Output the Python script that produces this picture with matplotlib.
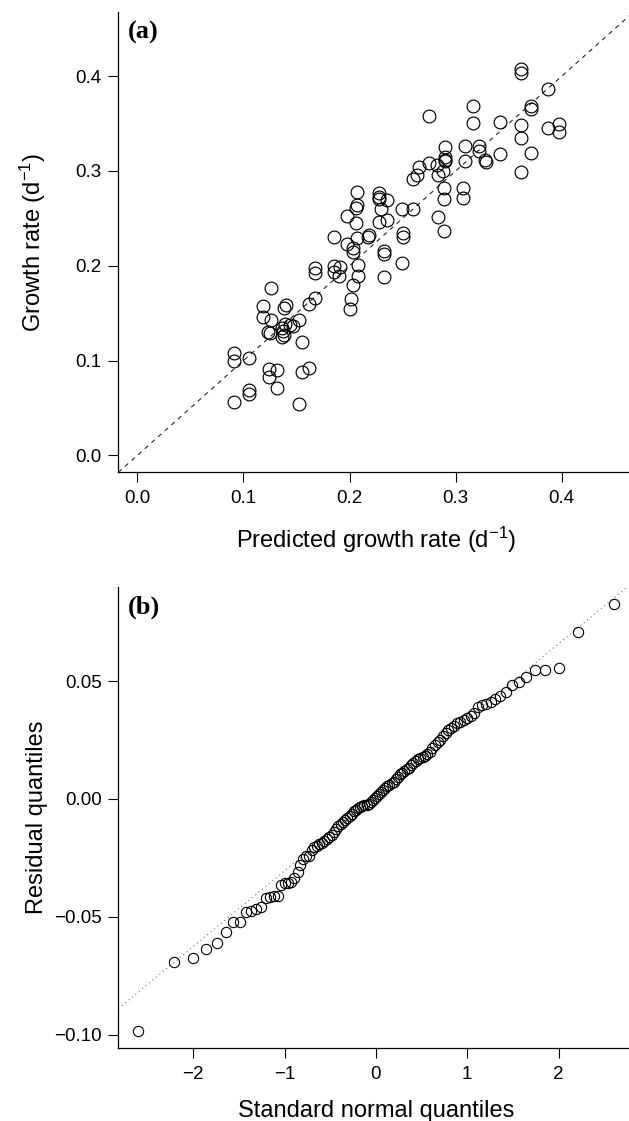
import matplotlib
matplotlib.use("Agg")
import matplotlib.pyplot as plt
from matplotlib.ticker import FixedLocator, FuncFormatter
from statistics import NormalDist

# ---------------- data ----------------
predicted = [0.362, 0.362, 0.387, 0.371, 0.371, 0.316, 0.275, 0.316, 0.342, 0.362,
             0.362, 0.387, 0.397, 0.397, 0.371, 0.362, 0.342, 0.328, 0.329, 0.322,
             0.322, 0.309, 0.309, 0.290, 0.290, 0.290, 0.290, 0.275, 0.282, 0.283,
             0.288, 0.265, 0.264, 0.260, 0.289, 0.289, 0.307, 0.307, 0.249, 0.260,
             0.283, 0.289, 0.250, 0.250, 0.207, 0.228, 0.228, 0.228, 0.235, 0.207,
             0.206, 0.198, 0.206, 0.230, 0.228, 0.235, 0.185, 0.207, 0.198, 0.203,
             0.203, 0.218, 0.217, 0.232, 0.232, 0.249, 0.208, 0.167, 0.167, 0.185,
             0.191, 0.185, 0.190, 0.208, 0.203, 0.232, 0.126, 0.167, 0.201, 0.200,
             0.162, 0.118, 0.118, 0.140, 0.138, 0.126, 0.152, 0.139, 0.144, 0.136,
             0.137, 0.138, 0.136, 0.125, 0.123, 0.147, 0.155, 0.091, 0.091, 0.105,
             0.124, 0.132, 0.124, 0.155, 0.162, 0.132, 0.105, 0.105, 0.091, 0.152]

observed = [0.408, 0.403, 0.386, 0.368, 0.365, 0.368, 0.358, 0.351, 0.352, 0.348,
            0.335, 0.345, 0.350, 0.341, 0.319, 0.299, 0.318, 0.312, 0.309, 0.326,
            0.321, 0.326, 0.311, 0.325, 0.312, 0.310, 0.315, 0.308, 0.306, 0.296,
            0.300, 0.304, 0.296, 0.291, 0.282, 0.270, 0.282, 0.271, 0.260, 0.260,
            0.251, 0.237, 0.235, 0.230, 0.278, 0.277, 0.273, 0.270, 0.269, 0.264,
            0.261, 0.253, 0.245, 0.260, 0.246, 0.248, 0.230, 0.229, 0.223, 0.219,
            0.215, 0.232, 0.230, 0.216, 0.212, 0.203, 0.201, 0.198, 0.192, 0.200,
            0.199, 0.193, 0.189, 0.189, 0.180, 0.188, 0.176, 0.166, 0.165, 0.154,
            0.160, 0.158, 0.146, 0.159, 0.155, 0.143, 0.143, 0.139, 0.138, 0.134,
            0.131, 0.127, 0.125, 0.129, 0.130, 0.136, 0.120, 0.108, 0.099, 0.103,
            0.091, 0.090, 0.083, 0.088, 0.092, 0.071, 0.069, 0.065, 0.056, 0.054]

# sorted residual quantiles (panel b)
residual_quantiles = [
    -0.0983, -0.0690, -0.0673, -0.0638, -0.0609, -0.0564, -0.0524, -0.0524, -0.0478, -0.0474,
    -0.0468, -0.0457, -0.0419, -0.0414, -0.0411, -0.0410, -0.0365, -0.0358, -0.0355, -0.0351,
    -0.0336, -0.0308, -0.0280, -0.0256, -0.0242, -0.0242, -0.0215, -0.0202, -0.0198, -0.0193,
    -0.0188, -0.0180, -0.0172, -0.0162, -0.0153, -0.0140, -0.0128, -0.0115, -0.0105, -0.0098,
    -0.0090, -0.0080, -0.0072, -0.0062, -0.0052, -0.0045, -0.0038, -0.0033, -0.0030, -0.0027,
    -0.0025, -0.0022, -0.0015, -0.0005, 0.0005, 0.0012, 0.0020, 0.0028, 0.0036, 0.0045,
    0.0053, 0.0060, 0.0066, 0.0073, 0.0085, 0.0095, 0.0105, 0.0112, 0.0118, 0.0125,
    0.0133, 0.0142, 0.0151, 0.0160, 0.0168, 0.0174, 0.0179, 0.0184, 0.0189, 0.0200,
    0.0215, 0.0230, 0.0240, 0.0252, 0.0265, 0.0280, 0.0292, 0.0300, 0.0310, 0.0320,
    0.0328, 0.0335, 0.0345, 0.0350, 0.0365, 0.0390, 0.0398, 0.0403, 0.0412, 0.0425,
    0.0438, 0.0455, 0.0483, 0.0497, 0.0516, 0.0547, 0.0547, 0.0554, 0.0709, 0.0827]

qqline_intercept = 0.0016
qqline_slope = 0.0321

a_ticks = [0.0, 0.1, 0.2, 0.3, 0.4]
b_xticks = [-2, -1, 0, 1, 2]
b_yticks = [-0.10, -0.05, 0.00, 0.05]

# theoretical normal quantiles (as in qqnorm)
n = len(residual_quantiles)
nd = NormalDist()
theoretical = [nd.inv_cdf((i + 0.5) / n) for i in range(n)]

# ---------------- style ----------------
plt.rcParams["font.family"] = ["Liberation Sans", "DejaVu Sans"]
plt.rcParams["mathtext.fontset"] = "custom"
plt.rcParams["mathtext.rm"] = "Liberation Sans"
plt.rcParams["mathtext.it"] = "Liberation Sans"
FS = 13.5      # tick labels
LFS = 17       # axis labels
PFS = 19       # panel letters

W, H = 629, 1121
fig = plt.figure(figsize=(W / 100, H / 100), dpi=100)


def add_ax(l, t, r, b):
    return fig.add_axes([l / W, 1 - b / H, (r - l) / W, (b - t) / H])


def style(ax):
    for s in ("top", "right"):
        ax.spines[s].set_visible(False)
    for s in ("left", "bottom"):
        ax.spines[s].set_linewidth(0.9)
    ax.tick_params(axis="both", direction="out", length=7, width=0.8,
                   labelsize=FS, colors="black")
    ax.tick_params(axis="x", pad=6)
    ax.tick_params(axis="y", pad=5)


def minus_fmt(fmt):
    return FuncFormatter(lambda v, p: fmt.format(v).replace("-", "\u2212"))


# ---------------- panel (a) ----------------
axa = add_ax(118.3, 11.7, 633.9, 472.4)
style(axa)
axa.set_xlim(-0.018, 0.468)
axa.set_ylim(-0.018, 0.468)
axa.axline((0, 0), slope=1, color="0.15", lw=0.8, linestyle=(0, (4, 4)))
axa.plot(predicted, observed, linestyle="none", marker="o", markersize=9.2,
         markerfacecolor="none", markeredgecolor="black", markeredgewidth=0.85)
axa.xaxis.set_major_locator(FixedLocator(a_ticks))
axa.yaxis.set_major_locator(FixedLocator(a_ticks))
axa.xaxis.set_major_formatter(minus_fmt("{:.1f}"))
axa.yaxis.set_major_formatter(minus_fmt("{:.1f}"))
axa.set_xlabel(r"Predicted growth rate (d$^{\mathregular{-1}}$)", fontsize=LFS)
axa.set_ylabel(r"Growth rate (d$^{\mathregular{-1}}$)", fontsize=LFS)
axa.xaxis.set_label_coords(0.5, -0.113)
axa.yaxis.set_label_coords(-0.137, 0.5)
axa.text(0.019, 0.954, "(a)", transform=axa.transAxes, ha="left", va="center",
         fontsize=PFS, fontweight="bold", family=["Liberation Serif", "DejaVu Serif"])

# ---------------- panel (b) ----------------
axb = add_ax(118.3, 586.7, 633.5, 1047.7)
style(axb)
axb.set_xlim(-2.82, 2.82)
axb.set_ylim(-0.1055, 0.090)
axb.axline((0, qqline_intercept), slope=qqline_slope, color="0.45", lw=0.8,
           linestyle=(0, (1, 3)))
axb.plot(theoretical, residual_quantiles, linestyle="none", marker="o",
         markersize=7.4, markerfacecolor="none", markeredgecolor="black",
         markeredgewidth=0.8)
axb.xaxis.set_major_locator(FixedLocator(b_xticks))
axb.yaxis.set_major_locator(FixedLocator(b_yticks))
axb.xaxis.set_major_formatter(minus_fmt("{:.0f}"))
axb.yaxis.set_major_formatter(minus_fmt("{:.2f}"))
axb.set_xlabel("Standard normal quantiles", fontsize=LFS)
axb.set_ylabel("Residual quantiles", fontsize=LFS)
axb.xaxis.set_label_coords(0.5, -0.113)
axb.yaxis.set_label_coords(-0.137, 0.5)
axb.text(0.019, 0.956, "(b)", transform=axb.transAxes, ha="left", va="center",
         fontsize=PFS, fontweight="bold", family=["Liberation Serif", "DejaVu Serif"])

fig.savefig("out.png", dpi=100)
